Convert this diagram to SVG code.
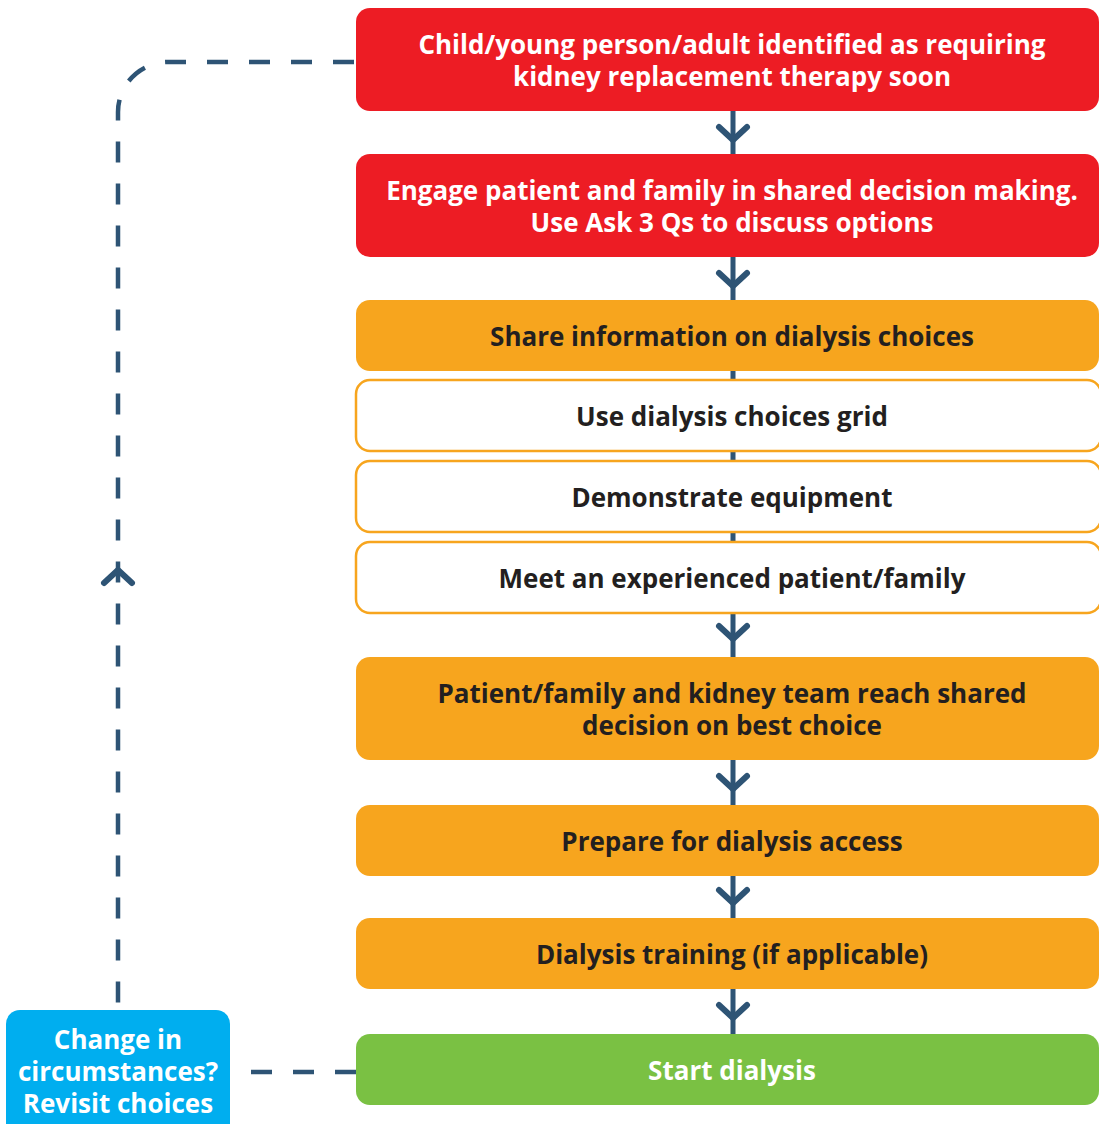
<svg xmlns="http://www.w3.org/2000/svg" width="1099" height="1124" viewBox="0 0 1099 1124">
<style>
.red{fill:#ED1C24}
.org{fill:#F7A51E}
.wht{fill:#FFFFFF;stroke:#F7A51E;stroke-width:2.5}
.grn{fill:#7AC143}
.blu{fill:#00AEEF}
text{font-family:"Open Sans","Noto Sans","Liberation Sans",sans-serif;font-weight:700;font-size:26px;text-anchor:middle}
.tw{fill:#FFFFFF}
.td{fill:#231F20}
.ln{stroke:#2E5475;stroke-width:5;fill:none;stroke-linecap:round;stroke-linejoin:round}
.hd{stroke:#2E5475;stroke-width:6;fill:none;stroke-linecap:round;stroke-linejoin:round}
.dash{stroke:#2E5475;stroke-width:4.5;fill:none;stroke-dasharray:21 21}
</style>
<g id="connectors">
<path class="dash" d="M354 62 H168 A50 50 0 0 0 118 112 V1010"/>
<path class="hd" d="M104 583 L118 570 L132 583"/>
<path class="dash" d="M356 1072 H246"/>
<line x1="733" y1="111" x2="733" y2="154" class="ln"/>
<path class="hd" d="M719 127 L733 140 L747 127"/>
<line x1="733" y1="257" x2="733" y2="300" class="ln"/>
<path class="hd" d="M719 273 L733 286 L747 273"/>
<line x1="733" y1="371" x2="733" y2="657" class="ln"/>
<path class="hd" d="M719 626 L733 639 L747 626"/>
<line x1="733" y1="760" x2="733" y2="805" class="ln"/>
<path class="hd" d="M719 776 L733 789 L747 776"/>
<line x1="733" y1="876" x2="733" y2="918" class="ln"/>
<path class="hd" d="M719 890 L733 903 L747 890"/>
<line x1="733" y1="989" x2="733" y2="1034" class="ln"/>
<path class="hd" d="M719 1005 L733 1018 L747 1005"/>
</g>
<g id="n1"><rect class="red" x="356" y="8" width="743" height="103" rx="14"/>
<text class="tw" x="732" y="54">Child/young person/adult identified as requiring</text>
<text class="tw" x="732" y="86">kidney replacement therapy soon</text></g>
<g id="n2"><rect class="red" x="356" y="154" width="743" height="103" rx="14"/>
<text class="tw" x="732" y="200">Engage patient and family in shared decision making.</text>
<text class="tw" x="732" y="232">Use Ask 3 Qs to discuss options</text></g>
<g id="n3"><rect class="org" x="356" y="300" width="743" height="71" rx="14"/>
<text class="td" x="732" y="346">Share information on dialysis choices</text></g>
<g id="n4"><rect class="wht" x="356" y="380" width="745" height="71" rx="14"/>
<text class="td" x="732" y="426">Use dialysis choices grid</text></g>
<g id="n5"><rect class="wht" x="356" y="461" width="745" height="71" rx="14"/>
<text class="td" x="732" y="507">Demonstrate equipment</text></g>
<g id="n6"><rect class="wht" x="356" y="542" width="745" height="71" rx="14"/>
<text class="td" x="732" y="588">Meet an experienced patient/family</text></g>
<g id="n7"><rect class="org" x="356" y="657" width="743" height="103" rx="14"/>
<text class="td" x="732" y="703">Patient/family and kidney team reach shared</text>
<text class="td" x="732" y="735">decision on best choice</text></g>
<g id="n8"><rect class="org" x="356" y="805" width="743" height="71" rx="14"/>
<text class="td" x="732" y="851">Prepare for dialysis access</text></g>
<g id="n9"><rect class="org" x="356" y="918" width="743" height="71" rx="14"/>
<text class="td" x="732" y="964">Dialysis training (if applicable)</text></g>
<g id="n10"><rect class="grn" x="356" y="1034" width="743" height="71" rx="14"/>
<text class="tw" x="732" y="1080">Start dialysis</text></g>
<g id="n11"><rect class="blu" x="6" y="1010" width="224" height="130" rx="14"/>
<text class="tw" x="118" y="1049">Change in</text>
<text class="tw" x="118" y="1081">circumstances?</text>
<text class="tw" x="118" y="1113">Revisit choices</text></g>
</svg>
